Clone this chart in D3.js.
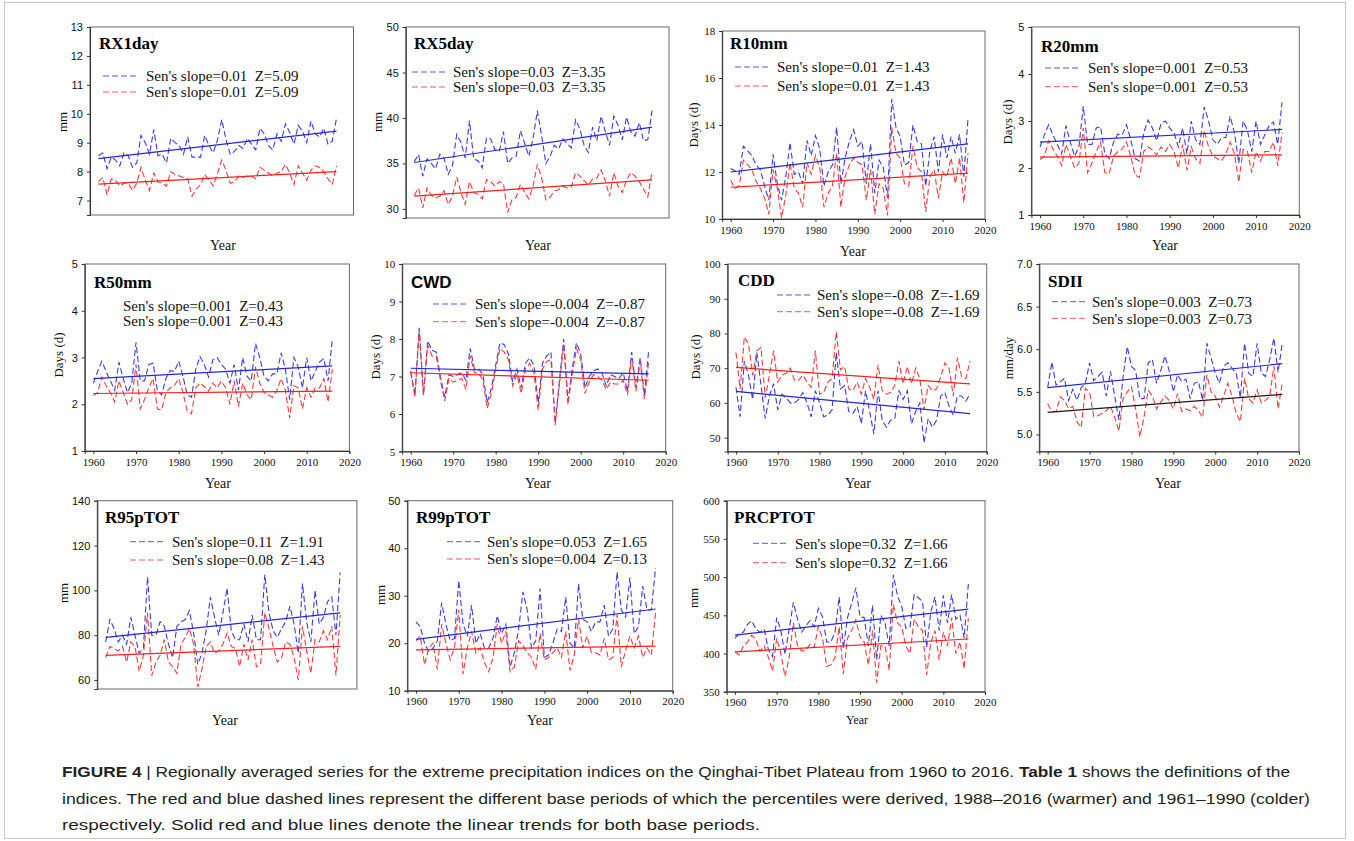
<!DOCTYPE html>
<html>
<head>
<meta charset="utf-8">
<script src="https://cdn.jsdelivr.net/npm/d3@7"></script>
<style>
  body { margin: 0; background: #fff; }
  text { white-space: pre; }
</style>
</head>
<body>
<svg id="fig" width="1354" height="841"></svg>
<script>
// ---- Data: regionally averaged indices, 1960-2016 ----
const years = d3.range(1960, 2017);

// blue = 1961-1990 base period, red = 1988-2016 base period
const rx1dayBlue = [8.55, 8.65, 8.1, 8.5, 8.4, 8.2, 8.65, 8.55, 8.15, 8.3,
  9.25, 9.0, 8.6, 9.45, 8.55, 8.6, 8.3, 9.15, 9.0, 8.9,
  8.6, 9.2, 8.5, 8.5, 8.5, 9.25, 8.9, 8.65, 9.1, 9.8,
  9.1, 8.6, 8.7, 8.9, 8.8, 9.15, 8.95, 8.75, 9.5, 9.3,
  8.9, 8.75, 9.3, 9.05, 9.65, 9.35, 8.95, 9.6, 9.4, 9.0,
  9.75, 9.3, 9.2, 9.5, 8.95, 9.05, 9.85];
const rx1dayRed = [7.65, 7.8, 7.2, 7.75, 7.7, 7.5, 7.6, 7.6, 7.35, 7.6,
  8.15, 7.7, 7.35, 7.95, 7.65, 7.6, 7.5, 8.0, 7.9, 7.85,
  7.8, 7.75, 7.15, 7.4, 7.55, 7.9, 7.7, 7.5, 7.95, 8.4,
  8.05, 7.6, 7.65, 7.85, 7.8, 7.85, 7.85, 7.75, 8.15, 8.05,
  7.95, 7.85, 7.95, 8.0, 8.25, 7.95, 7.55, 8.2, 7.95, 7.7,
  8.05, 8.2, 8.15, 8.0, 7.75, 7.55, 8.2];

const rx5dayBlue = [35.2, 36.0, 33.6, 35.5, 35.0, 34.4, 36.0, 35.6, 33.8, 34.8,
  38.2, 37.3, 35.6, 39.7, 35.5, 35.3, 34.5, 37.8, 37.7, 36.5,
  36.3, 38.5, 35.0, 35.6, 35.8, 38.6, 37.2, 35.8, 37.8, 40.8,
  38.0, 35.0, 35.8, 37.0, 36.6, 37.7, 37.2, 36.7, 39.8, 38.8,
  37.0, 36.2, 39.0, 37.5, 40.2, 38.5, 37.0, 40.2, 39.2, 37.6,
  40.1, 38.5, 38.0, 39.5, 37.5, 37.6, 40.8];
const rx5dayRed = [31.5, 32.3, 30.1, 32.3, 31.5, 31.2, 31.4, 32.0, 30.5, 31.4,
  33.5, 31.8, 30.5, 33.0, 31.8, 31.6, 31.1, 33.2, 33.0, 32.5,
  33.0, 32.8, 29.6, 31.0, 31.3, 32.7, 31.8, 31.1, 32.6, 34.9,
  33.4, 31.0, 31.3, 32.0, 32.1, 32.5, 32.3, 32.4, 34.0, 33.6,
  33.1, 32.6, 33.3, 33.4, 34.3, 33.1, 31.4, 34.0, 32.5, 31.8,
  33.2, 34.0, 33.6, 33.0, 32.2, 31.3, 34.1];

const r10mmBlue = [12.15, 12.05, 11.9, 13.1, 12.9, 12.7, 12.3, 12.1, 11.4, 10.8,
  12.75, 11.5, 10.8, 11.8, 13.25, 11.9, 12.0, 11.5, 13.35, 12.7,
  13.55, 13.0, 11.4, 12.0, 12.3, 13.9, 11.5, 12.6, 13.3, 13.8,
  13.1, 13.3, 11.5, 13.2, 11.1, 12.5, 12.2, 10.9, 15.1, 13.9,
  13.5, 12.3, 12.4, 14.0, 13.3, 13.2, 11.4, 12.9, 13.5, 12.0,
  13.6, 12.6, 13.5, 12.8, 13.6, 11.8, 14.3];
const r10mmRed = [11.65, 11.3, 11.4, 12.5, 12.3, 12.1, 11.6, 11.3, 10.9, 10.2,
  12.1, 11.3, 10.05, 11.0, 12.4, 11.3, 11.1, 10.5, 12.4, 11.9,
  12.7, 12.2, 10.5, 11.1, 11.4, 12.8, 10.5, 11.8, 12.3, 12.6,
  12.4, 12.3, 10.8, 12.1, 10.2, 11.5, 11.3, 10.15, 13.9, 12.8,
  12.6, 11.5, 11.4, 13.1, 12.2, 12.0, 10.3, 11.8, 12.1, 10.9,
  12.0, 11.8, 12.6, 11.5, 12.6, 10.7, 12.8];

const r20mmBlue = [2.45, 2.7, 2.92, 2.7, 2.5, 2.3, 2.9, 2.55, 2.25, 2.45,
  3.32, 2.5, 2.5, 2.85, 2.88, 2.3, 2.2, 2.55, 2.72, 2.7,
  2.92, 2.6, 2.2, 2.15, 2.75, 3.02, 2.85, 2.58, 2.95, 3.0,
  2.85, 2.75, 2.45, 2.85, 2.3, 3.0, 2.6, 2.5, 3.3, 3.0,
  2.6, 2.5, 2.65, 2.65, 3.1, 2.75, 2.1, 3.0, 2.8, 2.35,
  3.0, 2.5, 2.7, 2.9, 2.98, 2.5, 3.4];
const r20mmRed = [2.18, 2.25, 2.58, 2.4, 2.25, 2.05, 2.5, 2.25, 2.0, 2.1,
  2.85, 1.9, 2.1, 2.35, 2.55, 1.9, 1.88, 2.25, 2.35, 2.4,
  2.55, 2.25, 1.85, 1.8, 2.35, 2.45, 2.38, 2.28, 2.45, 2.35,
  2.5, 2.35, 2.0, 2.5, 1.95, 2.45, 2.2, 2.1, 2.8, 2.45,
  2.25, 2.2, 2.15, 2.3, 2.55, 2.3, 1.7, 2.4, 2.35, 1.9,
  2.35, 2.15, 2.35, 2.35, 2.55, 2.05, 2.75];

// R50mm series coincide with the R20mm series
const r50mmBlue = r20mmBlue.slice();
const r50mmRed = r20mmRed.slice();

const cwdBlue = [7.15, 6.5, 8.3, 6.5, 7.95, 7.7, 7.65, 7.0, 6.45, 7.05,
  7.0, 7.05, 7.1, 6.9, 7.75, 7.2, 7.2, 7.05, 6.3, 6.7,
  7.3, 7.9, 7.85, 7.6, 6.85, 7.2, 6.7, 7.35, 7.5, 7.3,
  6.3, 7.35, 7.55, 7.65, 5.75, 6.9, 8.0, 6.35, 7.2, 7.9,
  7.6, 6.7, 7.0, 7.15, 7.2, 7.1, 6.75, 7.05, 7.0, 6.95,
  7.1, 6.6, 7.65, 6.7, 7.5, 6.5, 7.7];
const cwdRed = [7.1, 6.45, 8.25, 6.5, 7.85, 7.55, 7.55, 6.9, 6.35, 6.95,
  6.85, 6.9, 6.95, 6.65, 7.55, 7.1, 7.1, 6.9, 6.15, 6.55,
  7.2, 7.75, 7.65, 7.45, 6.75, 7.05, 6.55, 7.2, 7.35, 7.1,
  6.1, 7.2, 7.4, 7.45, 5.7, 6.8, 7.85, 6.25, 7.05, 7.75,
  7.45, 6.55, 6.85, 7.05, 7.0, 6.9, 6.65, 6.85, 6.8, 6.8,
  6.9, 6.5, 7.5, 6.6, 7.4, 6.4, 7.4];

const cddBlue = [64.5, 56.0, 72.0, 68.0, 61.0, 74.5, 65.0, 55.5, 62.0, 65.5,
  58.0, 62.5, 61.5, 60.0, 60.0, 61.0, 63.0, 60.0, 56.0, 63.5,
  60.0, 56.0, 56.5, 58.0, 74.5, 64.0, 65.0, 57.5, 57.0, 59.0,
  54.0, 63.5, 57.5, 51.0, 63.5, 55.0, 53.0, 55.0, 55.5, 63.5,
  61.0, 63.5, 54.0, 57.5, 60.0, 48.5, 55.5, 53.0, 55.0, 62.0,
  63.0, 59.0, 56.5, 62.0, 62.0, 60.5, 62.5];
const cddRed = [74.5, 64.0, 79.0, 77.0, 68.0, 75.0, 76.0, 61.5, 68.0, 75.0,
  66.0, 68.0, 68.5, 70.0, 66.5, 66.5, 68.0, 66.0, 64.5, 75.0,
  62.5, 63.0, 66.0, 67.0, 80.5, 69.5, 70.5, 64.0, 63.5, 66.0,
  62.5, 67.0, 64.5, 61.0, 71.0, 63.5, 62.5, 63.0, 65.0, 72.0,
  65.5, 70.5, 65.5, 70.0, 67.0, 58.0, 65.0, 63.5, 64.0, 67.5,
  71.5, 70.0, 62.0, 73.0, 67.5, 67.0, 72.0];

const sdiiBlue = [5.55, 5.85, 5.58, 5.62, 5.66, 5.4, 5.53, 5.4, 5.55, 5.6,
  5.84, 5.63, 5.68, 5.73, 5.45, 5.74, 5.45, 5.17, 5.68, 6.03,
  5.8, 5.75, 5.42, 5.42, 5.84, 5.88, 5.6, 5.75, 5.92, 5.75,
  5.5, 5.7, 5.62, 5.65, 5.42, 5.6, 5.62, 5.4, 6.07, 5.9,
  5.72, 5.6, 5.8, 5.84, 5.78, 5.72, 5.43, 6.07, 5.72, 5.68,
  6.07, 5.72, 5.68, 5.88, 6.13, 5.73, 6.07];
const sdiiRed = [5.36, 5.27, 5.27, 5.44, 5.4, 5.3, 5.33, 5.15, 5.08, 5.54,
  5.5, 5.21, 5.22, 5.25, 5.28, 5.33, 5.2, 5.04, 5.42, 5.5,
  5.56, 5.3, 4.97, 5.2, 5.52, 5.45, 5.3, 5.38, 5.45, 5.4,
  5.3, 5.48, 5.27, 5.3, 5.28, 5.33, 5.28, 5.2, 5.7, 5.5,
  5.45, 5.32, 5.45, 5.6, 5.45, 5.25, 5.15, 5.66, 5.42, 5.37,
  5.52, 5.37, 5.4, 5.45, 5.8, 5.3, 5.6];

const r95pBlue = [77, 87, 83, 77, 80, 76, 88, 80, 72, 74,
  106, 80, 80, 86, 84, 76, 70, 84, 86, 87,
  91, 81, 67, 72, 82, 97, 88, 80, 90, 101,
  82, 78, 78, 85, 77, 89, 78, 78, 107, 90,
  82, 79, 83, 86, 93, 85, 72, 103, 86, 77,
  100, 85, 88, 95, 97, 80, 108];
const r95pRed = [70, 75, 74, 73, 75, 68, 77, 75, 64, 71,
  90, 62, 68, 71, 78, 68, 66, 63, 76, 79,
  83, 76, 57, 65, 75, 77, 72, 73, 76, 81,
  75, 74, 66, 76, 69, 78, 66, 67, 90, 83,
  75, 68, 70, 77, 76, 70, 60, 84, 73, 63,
  78, 77, 82, 78, 84, 62, 89];

const r99pBlue = [24.5, 23.5, 20, 18.2, 19, 20.5, 28.5, 24, 20.5, 21,
  33.2, 24, 21.5, 28, 20, 22, 19, 19, 21, 25.8,
  22, 24, 15, 18, 23, 30.8, 27, 19, 20.5, 31.5,
  17, 17.5, 20, 23, 22.5, 29.7, 20, 19, 32.5, 25,
  24.5, 22.5, 24.5, 24.5, 28, 21.5, 23, 35, 27, 25.5,
  33.8, 22, 23.5, 32, 27, 27, 35.8];
const r99pRed = [20.5, 21.5, 15.5, 19, 20, 14.5, 24, 20, 16.5, 19,
  27, 13.5, 19, 22.5, 18, 19, 16, 14, 17, 24,
  20, 22.5, 14, 15, 20.5, 19.5, 18, 17, 14.5, 22,
  16.5, 17, 18, 19, 17, 22.5, 14.3, 17.5, 25, 19,
  21.5, 18, 18, 17.5, 21, 16.5, 17, 26, 15, 18.5,
  21.5, 19, 21.5, 17, 19, 17.5, 26.5];

const prcptotBlue = [420, 426, 428, 438, 443, 432, 428, 432, 405, 396,
  447, 430, 399, 432, 467, 445, 428, 436, 443, 435,
  459, 448, 415, 415, 428, 474, 407, 447, 466, 486,
  448, 447, 410, 463, 392, 450, 440, 410, 503, 475,
  462, 433, 435, 477, 473, 468, 408, 455, 474, 430,
  476, 440, 477, 445, 450, 420, 491];
const prcptotRed = [402, 398, 410, 415, 424, 418, 403, 410, 395, 377,
  420, 400, 370, 395, 440, 410, 403, 405, 412, 408,
  435, 420, 383, 385, 395, 435, 373, 420, 430, 444,
  422, 415, 385, 430, 362, 410, 410, 378, 464, 440,
  435, 410, 400, 445, 435, 430, 372, 415, 430, 392,
  428, 410, 447, 400, 415, 380, 446];

// Linear trend values at 1960 and 2016
const blueTrends = [[8.45, 9.40], [35.1, 39.0], [12.0, 13.2], [2.55, 2.82], [2.55, 2.82],
  [7.22, 7.07], [63.3, 56.9], [5.55, 5.83], [79, 90], [20.8, 27.2], [424, 458]];
const redTrends = [[7.57, 8.0], [31.4, 33.2], [11.35, 11.95], [2.23, 2.28], [2.23, 2.28],
  [7.1, 6.9], [70.2, 65.5], [5.26, 5.47], [71, 75], [18.6, 19.4], [402, 419]];

const indexNames = ["RX1day", "RX5day", "R10mm", "R20mm", "R50mm", "CWD", "CDD", "SDII",
  "R95pTOT", "R99pTOT", "PRCPTOT"];
const unitLabels = ["mm", "mm", "Days (d)", "Days (d)", "Days (d)", "Days (d)", "Days (d)",
  "mm/day", "mm", "mm", "mm"];
const blueStats = ["Sen's slope=0.01  Z=5.09", "Sen's slope=0.03  Z=3.35", "Sen's slope=0.01  Z=1.43",
  "Sen's slope=0.001  Z=0.53", "Sen's slope=0.001  Z=0.43", "Sen's slope=-0.004  Z=-0.87",
  "Sen's slope=-0.08  Z=-1.69", "Sen's slope=0.003  Z=0.73", "Sen's slope=0.11  Z=1.91",
  "Sen's slope=0.053  Z=1.65", "Sen's slope=0.32  Z=1.66"];
const redStats = ["Sen's slope=0.01  Z=5.09", "Sen's slope=0.03  Z=3.35", "Sen's slope=0.01  Z=1.43",
  "Sen's slope=0.001  Z=0.53", "Sen's slope=0.001  Z=0.43", "Sen's slope=-0.004  Z=-0.87",
  "Sen's slope=-0.08  Z=-1.69", "Sen's slope=0.003  Z=0.73", "Sen's slope=0.08  Z=1.43",
  "Sen's slope=0.004  Z=0.13", "Sen's slope=0.32  Z=1.66"];
const yTickSets = [d3.range(7, 14, 1), d3.range(30, 51, 5), d3.range(10, 19, 2), d3.range(1, 6, 1),
  d3.range(1, 6, 1), d3.range(5, 11, 1), d3.range(50, 101, 10), [5.0, 5.5, 6.0, 6.5, 7.0],
  d3.range(60, 141, 20), d3.range(10, 51, 10), d3.range(350, 601, 50)];
const xTickYears = d3.range(1960, 2021, 10);

const blueSeries = [rx1dayBlue, rx5dayBlue, r10mmBlue, r20mmBlue, r50mmBlue, cwdBlue, cddBlue,
  sdiiBlue, r95pBlue, r99pBlue, prcptotBlue];
const redSeries = [rx1dayRed, rx5dayRed, r10mmRed, r20mmRed, r50mmRed, cwdRed, cddRed,
  sdiiRed, r95pRed, r99pRed, prcptotRed];

// ---- Panel geometry ----
const SERIF = "'Liberation Serif', 'Times New Roman', serif";
const SANS = "'Liberation Sans', Arial, sans-serif";
const layout = [
  { L: 90,   R: 353.5, T: 27,    B: 215,   dom: [6.5, 13], tf: SANS,  fmt: "d",   title: [99, 49],   tFont: SERIF, leg: [103, 76, 92, 146],   ylab: [62, 122],   xlab: [223, 245], clip: 357 },
  { L: 405.8, R: 669,  T: 27,    B: 218,   dom: [29, 50],  tf: SANS,  fmt: "d",   title: [414, 49],  tFont: SERIF, leg: [412, 72, 87, 453],   ylab: [377, 122],  xlab: [538, 245], clip: 671 },
  { L: 722.2, R: 985,  T: 31,    B: 219,   dom: [10, 18],  tf: SERIF, fmt: "d",   title: [730, 49],  tFont: SERIF, leg: [735, 67, 86, 777],   ylab: [693, 125],  xlab: [853, 251] },
  { L: 1031.4, R: 1299.3, T: 27, B: 215,   dom: [1, 5],    tf: SANS,  fmt: "d",   title: [1041, 52], tFont: SERIF, leg: [1045, 68, 86.7, 1088], ylab: [1007, 122], xlab: [1165, 245] },
  { L: 84.8, R: 349.4, T: 264,   B: 451,   dom: [1, 5],    tf: SANS,  fmt: "d",   title: [94, 288],  tFont: SERIF, leg: [null, 305.7, 321, 123], ylab: [58, 355], xlab: [218, 483] },
  { L: 402.2, R: 665.7, T: 264,  B: 451.5, dom: [5, 10],   tf: SERIF, fmt: "d",   title: [411, 288], tFont: SANS,  leg: [433, 304, 321.7, 475], ylab: [375, 357], xlab: [538, 483] },
  { L: 727.6, R: 986.7, T: 264,  B: 451.5, dom: [46, 100], tf: SERIF, fmt: "d",   title: [738, 286], tFont: SERIF, leg: [777, 295, 311.7, 817], ylab: [695, 357], xlab: [858, 483] },
  { L: 1039.3, R: 1299, T: 264,  B: 451.5, dom: [4.8, 7.0], tf: SANS, fmt: ".1f", title: [1048, 287], tFont: SERIF, leg: [1052, 301.7, 318.3, 1092], ylab: [1008, 358], xlab: [1168, 483], redTrendColor: "#1a1a1a" },
  { L: 97.3, R: 356.9, T: 500.7, B: 689,   dom: [56, 140], tf: SANS,  fmt: "d",   title: [105, 523], tFont: SERIF, leg: [130, 541.7, 560, 172], ylab: [63, 593], xlab: [225, 720], clip: 357 },
  { L: 407.4, R: 672.7, T: 500.7, B: 690.7, dom: [10, 50], tf: SANS,  fmt: "d",   title: [416, 523], tFont: SERIF, leg: [447, 541.7, 559, 487], ylab: [380, 595], xlab: [540, 720] },
  { L: 726.7, R: 985,  T: 500.7, B: 691.7, dom: [350, 600], tf: SERIF, fmt: "d", title: [734, 523], tFont: SERIF, leg: [753, 543.3, 562.7, 795], ylab: [693, 598], xlab: [857, 720], xlabSize: 12 }
];

const BLUE = "#3b3bea";
const RED = "#ff3b3b";
const BLUE_TREND = "#2626d9";
const RED_TREND = "#f52020";

const svg = d3.select("#fig");
const defs = svg.append("defs");

// outer figure border
svg.append("rect").attr("x", 4.5).attr("y", 2.5).attr("width", 1341).attr("height", 836)
  .attr("fill", "none").attr("stroke", "#c8c8c8").attr("stroke-width", 1);

layout.forEach((p, i) => {
  const x = d3.scaleLinear().domain([1958, 2020]).range([p.L, p.R]);
  const y = d3.scaleLinear().domain(p.dom).range([p.B, p.T]);
  const g = svg.append("g").attr("class", "panel");

  // plot frame
  g.append("rect").attr("x", p.L).attr("y", p.T).attr("width", p.R - p.L).attr("height", p.B - p.T)
    .attr("fill", "none").attr("stroke", "#6a6a6a").attr("stroke-width", 1);

  // x axis
  const gx = g.append("g").attr("transform", `translate(0,${p.B})`)
    .call(d3.axisBottom(x).tickValues(xTickYears).tickFormat(d3.format("d")).tickSize(3).tickPadding(4));
  gx.select(".domain").attr("stroke", "#333");
  gx.selectAll(".tick line").attr("stroke", "#333");
  gx.selectAll("text").attr("font-family", SERIF).attr("font-size", 11).attr("fill", "#111");
  if (p.clip) {
    const id = "clipx" + i;
    defs.append("clipPath").attr("id", id).append("rect")
      .attr("x", p.L - 30).attr("y", p.B - 5).attr("width", p.clip - p.L + 30).attr("height", 40);
    gx.attr("clip-path", `url(#${id})`);
  }

  // y axis
  const gy = g.append("g").attr("transform", `translate(${p.L},0)`)
    .call(d3.axisLeft(y).tickValues(yTickSets[i]).tickFormat(d3.format(p.fmt)).tickSize(3).tickPadding(4));
  gy.select(".domain").attr("stroke", "#333");
  gy.selectAll(".tick line").attr("stroke", "#333");
  gy.selectAll("text").attr("font-family", p.tf).attr("font-size", 11).attr("fill", "#111");

  // axis titles
  g.append("text").attr("x", p.xlab[0]).attr("y", p.xlab[1]).attr("dy", "0.35em")
    .attr("text-anchor", "middle").attr("font-family", SERIF).attr("font-size", p.xlabSize || 14)
    .attr("fill", "#111").text("Year");
  g.append("text").attr("transform", `translate(${p.ylab[0]},${p.ylab[1]}) rotate(-90)`)
    .attr("dy", "0.35em").attr("text-anchor", "middle").attr("font-family", SERIF)
    .attr("font-size", 13).attr("fill", "#111").text(unitLabels[i]);

  // dashed yearly series
  const line = d3.line().x((d, j) => x(years[j])).y(d => y(d));
  g.append("path").datum(blueSeries[i]).attr("d", line).attr("fill", "none")
    .attr("stroke", BLUE).attr("stroke-width", 1.1).attr("stroke-dasharray", "6,3");
  g.append("path").datum(redSeries[i]).attr("d", line).attr("fill", "none")
    .attr("stroke", RED).attr("stroke-width", 1.1).attr("stroke-dasharray", "6,3");

  // linear trends
  const trendLine = d3.line().x(d => x(d[0])).y(d => y(d[1]));
  g.append("path").datum([[1960, blueTrends[i][0]], [2016, blueTrends[i][1]]]).attr("d", trendLine)
    .attr("stroke", BLUE_TREND).attr("stroke-width", 1.2).attr("fill", "none");
  g.append("path").datum([[1960, redTrends[i][0]], [2016, redTrends[i][1]]]).attr("d", trendLine)
    .attr("stroke", p.redTrendColor || RED_TREND).attr("stroke-width", 1.2).attr("fill", "none");

  // panel title
  g.append("text").attr("x", p.title[0]).attr("y", p.title[1]).attr("font-family", p.tFont)
    .attr("font-weight", "bold").attr("font-size", 17).attr("fill", "#000").text(indexNames[i]);

  // legend
  const [lx, r1, r2, tx] = p.leg;
  if (lx !== null) {
    [[r1, BLUE], [r2, RED]].forEach(([ry, c]) => {
      g.append("line").attr("x1", lx).attr("x2", lx + 33).attr("y1", ry).attr("y2", ry)
        .attr("stroke", c).attr("stroke-width", 1).attr("stroke-dasharray", "6,3").attr("opacity", 0.85);
    });
  }
  [[r1, blueStats[i]], [r2, redStats[i]]].forEach(([ry, t]) => {
    g.append("text").attr("x", tx).attr("y", ry).attr("dy", "0.35em").attr("font-family", SERIF)
      .attr("font-size", 15).attr("fill", "#111").text(t);
  });
});

// ---- Caption ----
const captionLines = [
  { y: 777, w: 1228, parts: [["FIGURE 4", true], [" | ", false],
    ["Regionally averaged series for the extreme precipitation indices on the Qinghai-Tibet Plateau from 1960 to 2016. ", false],
    ["Table 1", true], [" shows the definitions of the", false]] },
  { y: 804, w: 1248, parts: [["indices. The red and blue dashed lines represent the different base periods of which the percentiles were derived, 1988\u20132016 (warmer) and 1961\u20131990 (colder)", false]] },
  { y: 830, w: 698, parts: [["respectively. Solid red and blue lines denote the linear trends for both base periods.", false]] }
];
captionLines.forEach(l => {
  const t = svg.append("text").attr("x", 62).attr("y", l.y).attr("font-family", SANS)
    .attr("font-size", 15.5).attr("fill", "#231f20")
    .attr("textLength", l.w).attr("lengthAdjust", "spacingAndGlyphs");
  l.parts.forEach(([s, b]) => {
    t.append("tspan").attr("font-weight", b ? "bold" : "normal").text(s);
  });
});
</script>
</body>
</html>
